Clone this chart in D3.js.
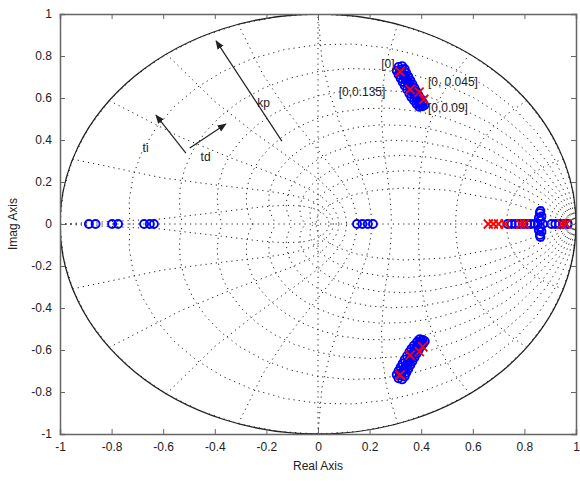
<!doctype html>
<html>
<head>
<meta charset="utf-8">
<title>pzmap</title>
<script src="https://cdn.jsdelivr.net/npm/d3@7"></script>
<style>
  body { margin: 0; background: #fff; }
  svg { display: block; font-family: "Liberation Sans", Arial, sans-serif; }
  .axis text { font-size: 12px; fill: #222; }
  .axis path, .axis line { stroke: #666; }
</style>
</head>
<body>
<div id="chart"></div>
<script>
// tick values / labels
var xTicks = [-1, -0.8, -0.6, -0.4, -0.2, 0, 0.2, 0.4, 0.6, 0.8, 1];
var xTickLabels = ["-1", "-0.8", "-0.6", "-0.4", "-0.2", "0", "0.2", "0.4", "0.6", "0.8", "1"];
var yTicks = [-1, -0.8, -0.6, -0.4, -0.2, 0, 0.2, 0.4, 0.6, 0.8, 1];
var yTickLabels = ["-1", "-0.8", "-0.6", "-0.4", "-0.2", "0", "0.2", "0.4", "0.6", "0.8", "1"];

// zgrid parameters
var zetaVals = [0, 0.1, 0.2, 0.3, 0.4, 0.5, 0.6, 0.7, 0.8, 0.9];
var wnFactors = [0.1, 0.2, 0.3, 0.4, 0.5, 0.6, 0.7, 0.8, 0.9, 1.0];

// poles (red x), [real, imag]
var polesUpper = [[0.318, 0.725], [0.357, 0.641], [0.392, 0.628], [0.410, 0.594]];
var polesLower = [[0.318, -0.719], [0.357, -0.624], [0.393, -0.608], [0.406, -0.584]];
var polesReal = [[0.660, 0], [0.680, 0], [0.700, 0], [0.725, 0], [0.785, 0], [0.800, 0], [0.945, 0], [0.962, 0]];

// zeros (blue o)
var zerosUpper = [
  [0.312, 0.748], [0.326, 0.752], [0.305, 0.730], [0.322, 0.735], [0.336, 0.738],
  [0.312, 0.712], [0.328, 0.716], [0.342, 0.720], [0.320, 0.694], [0.336, 0.698],
  [0.350, 0.702], [0.328, 0.676], [0.344, 0.680], [0.358, 0.684], [0.336, 0.658],
  [0.352, 0.662], [0.366, 0.666], [0.345, 0.640], [0.360, 0.644], [0.374, 0.648],
  [0.354, 0.622], [0.368, 0.626], [0.382, 0.630], [0.362, 0.604], [0.377, 0.608],
  [0.390, 0.612], [0.372, 0.588], [0.386, 0.592], [0.398, 0.596], [0.382, 0.572],
  [0.395, 0.575], [0.406, 0.580], [0.392, 0.558], [0.404, 0.560], [0.412, 0.566],
  [0.318, 0.724], [0.334, 0.708], [0.342, 0.688], [0.350, 0.670], [0.358, 0.652],
  [0.366, 0.634], [0.374, 0.616], [0.382, 0.598], [0.390, 0.582], [0.398, 0.566]
];
var zerosLower = [
  [0.312, -0.735], [0.326, -0.740], [0.305, -0.718], [0.322, -0.722], [0.336, -0.726],
  [0.312, -0.700], [0.328, -0.704], [0.342, -0.708], [0.320, -0.682], [0.336, -0.686],
  [0.350, -0.690], [0.328, -0.664], [0.344, -0.668], [0.358, -0.672], [0.336, -0.646],
  [0.352, -0.650], [0.366, -0.654], [0.345, -0.628], [0.360, -0.632], [0.374, -0.636],
  [0.354, -0.610], [0.368, -0.614], [0.382, -0.618], [0.362, -0.594], [0.377, -0.598],
  [0.390, -0.600], [0.372, -0.578], [0.386, -0.580], [0.398, -0.584], [0.384, -0.562],
  [0.396, -0.565], [0.407, -0.570], [0.395, -0.548], [0.406, -0.552], [0.414, -0.558],
  [0.318, -0.712], [0.334, -0.695], [0.342, -0.676], [0.350, -0.658], [0.358, -0.640],
  [0.366, -0.622], [0.374, -0.604], [0.382, -0.588], [0.390, -0.572], [0.400, -0.556]
];
var zerosRight = [
  [0.735, 0], [0.750, 0], [0.765, 0], [0.780, 0], [0.795, 0], [0.810, 0], [0.825, 0],
  [0.840, 0], [0.852, 0], [0.862, 0.018], [0.862, -0.018], [0.866, 0.036], [0.866, -0.036],
  [0.856, 0.030], [0.856, -0.030], [0.860, 0.052], [0.860, -0.052], [0.862, 0.062], [0.862, -0.062],
  [0.872, 0], [0.905, 0], [0.920, 0], [0.935, 0], [0.950, 0], [0.968, 0]
];
var zerosLeft = [[-0.888, 0], [-0.862, 0], [-0.798, 0], [-0.775, 0], [-0.674, 0], [-0.652, 0], [-0.636, 0]];
var zerosCenter = [[0.151, 0], [0.172, 0], [0.193, 0], [0.213, 0]];

// text annotations [x, y, text]
var noteLabels = [
  [0.245, 0.765, "[0]"],
  [0.426, 0.676, "[0, 0.045]"],
  [0.080, 0.629, "[0,0.135]"],
  [0.426, 0.552, "[0,0.09]"],
  [-0.235, 0.575, "kp"],
  [-0.680, 0.365, "ti"],
  [-0.455, 0.320, "td"]
];
// arrows [x0, y0, x1, y1]
var arrows = [
  [-0.140, 0.395, -0.395, 0.872],
  [-0.512, 0.338, -0.628, 0.518],
  [-0.497, 0.362, -0.357, 0.476]
];

var width = 580, height = 481;
var margin = {left: 60, right: 4, top: 14, bottom: 47};

var svg = d3.select("#chart").append("svg")
  .attr("width", width)
  .attr("height", height);

var x = d3.scaleLinear().domain([-1, 1]).range([margin.left, width - margin.right]);
var y = d3.scaleLinear().domain([-1, 1]).range([height - margin.bottom, margin.top]);

var defs = svg.append("defs");
defs.append("clipPath").attr("id", "plotclip")
  .append("rect")
  .attr("x", x(-1)).attr("y", y(1))
  .attr("width", x(1) - x(-1)).attr("height", y(-1) - y(1));
defs.append("marker")
  .attr("id", "head")
  .attr("viewBox", "0 0 10 10")
  .attr("refX", 9).attr("refY", 5)
  .attr("markerWidth", 9).attr("markerHeight", 9)
  .attr("markerUnits", "userSpaceOnUse")
  .attr("orient", "auto")
  .append("path")
  .attr("d", "M0,1 L10,5 L0,9 z")
  .attr("fill", "#222");

var plot = svg.append("g").attr("clip-path", "url(#plotclip)");

var line = d3.line().x(function(d) { return x(d[0]); }).y(function(d) { return y(d[1]); });

// zgrid: damping lines
var grid = plot.append("g")
  .attr("fill", "none")
  .attr("stroke", "#222")
  .attr("stroke-width", 1)
  .attr("stroke-dasharray", "1.2,4");

zetaVals.forEach(function(z) {
  var m = Math.tan(Math.asin(z));
  var pts = [];
  for (var k = 0; k <= 20; k++) {
    var th = k * Math.PI / 20;
    var r = Math.exp(-m * th);
    pts.push([r * Math.cos(th), r * Math.sin(th)]);
  }
  grid.append("path").attr("d", line(pts));
  grid.append("path").attr("d", line(pts.map(function(p) { return [p[0], -p[1]]; })));
});

// zgrid: natural frequency lines
wnFactors.forEach(function(f) {
  var wn = f * Math.PI;
  var pts = [];
  for (var k = 0; k <= 10; k++) {
    var th = Math.PI / 2 + k * Math.PI / 20;
    var a = wn * Math.cos(th), b = wn * Math.sin(th);
    var r = Math.exp(a);
    pts.push([r * Math.cos(b), r * Math.sin(b)]);
  }
  grid.append("path").attr("d", line(pts));
  grid.append("path").attr("d", line(pts.map(function(p) { return [p[0], -p[1]]; })));
});

// dotted axes through origin
grid.append("path").attr("d", line([[-1, 0], [1, 0]]));
grid.append("path").attr("d", line([[0, -1], [0, 1]]));

// unit circle
plot.append("ellipse")
  .attr("cx", x(0)).attr("cy", y(0))
  .attr("rx", x(1) - x(0)).attr("ry", y(0) - y(1))
  .attr("fill", "none")
  .attr("stroke", "#222")
  .attr("stroke-width", 1.3);

// zeros
var allZeros = zerosUpper.concat(zerosLower, zerosRight, zerosLeft, zerosCenter);
plot.selectAll(".zero")
  .data(allZeros)
  .enter().append("circle")
  .attr("class", "zero")
  .attr("cx", function(d) { return x(d[0]); })
  .attr("cy", function(d) { return y(d[1]); })
  .attr("r", 4)
  .attr("fill", "none")
  .attr("stroke", "#0000ff")
  .attr("stroke-width", 1.9);

// poles
var allPoles = polesUpper.concat(polesLower, polesReal);
var s = 4.5;
plot.selectAll(".pole")
  .data(allPoles)
  .enter().append("path")
  .attr("class", "pole")
  .attr("d", function(d) {
    var cx = x(d[0]), cy = y(d[1]);
    return "M" + (cx - s) + "," + (cy - s) + "L" + (cx + s) + "," + (cy + s) +
           "M" + (cx - s) + "," + (cy + s) + "L" + (cx + s) + "," + (cy - s);
  })
  .attr("stroke", "#ff0000")
  .attr("stroke-width", 1.8);

// arrows
svg.selectAll(".arrow")
  .data(arrows)
  .enter().append("line")
  .attr("class", "arrow")
  .attr("x1", function(d) { return x(d[0]); })
  .attr("y1", function(d) { return y(d[1]); })
  .attr("x2", function(d) { return x(d[2]); })
  .attr("y2", function(d) { return y(d[3]); })
  .attr("stroke", "#222")
  .attr("stroke-width", 1.2)
  .attr("marker-end", "url(#head)");

// annotations
svg.selectAll(".note")
  .data(noteLabels)
  .enter().append("text")
  .attr("class", "note")
  .attr("x", function(d) { return x(d[0]); })
  .attr("y", function(d) { return y(d[1]); })
  .attr("dy", "0.35em")
  .attr("font-size", 12)
  .attr("fill", "#222")
  .text(function(d) { return d[2]; });

// axes (inward ticks, box)
svg.append("g").attr("class", "axis")
  .attr("transform", "translate(0," + y(-1) + ")")
  .call(d3.axisBottom(x).tickValues(xTicks).tickSize(-5).tickPadding(8)
    .tickFormat(function(d, i) { return xTickLabels[i]; }));
svg.append("g").attr("class", "axis")
  .attr("transform", "translate(0," + y(1) + ")")
  .call(d3.axisTop(x).tickValues(xTicks).tickSize(-5).tickFormat(""));
svg.append("g").attr("class", "axis")
  .attr("transform", "translate(" + x(-1) + ",0)")
  .call(d3.axisLeft(y).tickValues(yTicks).tickSize(-5).tickPadding(8)
    .tickFormat(function(d, i) { return yTickLabels[i]; }));
svg.append("g").attr("class", "axis")
  .attr("transform", "translate(" + x(1) + ",0)")
  .call(d3.axisRight(y).tickValues(yTicks).tickSize(-5).tickFormat(""));

svg.selectAll(".axis .domain").attr("stroke-width", 1.5);

// axis titles
svg.append("text")
  .attr("x", (x(-1) + x(1)) / 2)
  .attr("y", height - 11)
  .attr("text-anchor", "middle")
  .attr("font-size", 12)
  .attr("fill", "#222")
  .text("Real Axis");

svg.append("text")
  .attr("transform", "translate(17," + ((y(-1) + y(1)) / 2) + ") rotate(-90)")
  .attr("text-anchor", "middle")
  .attr("font-size", 12)
  .attr("fill", "#222")
  .text("Imag Axis");
</script>
</body>
</html>
